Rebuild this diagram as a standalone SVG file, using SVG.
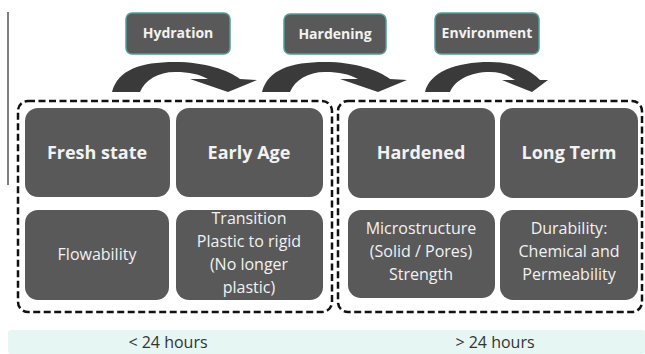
<svg xmlns="http://www.w3.org/2000/svg" width="645" height="354" viewBox="0 0 645 354">
<style>
.box{fill:#595959}
.lbl{fill:#595959;stroke:#4e9e9b;stroke-width:1.5}
.dash{fill:none;stroke:#111;stroke-width:2.5;stroke-dasharray:7 3.5}
.arr{fill:#3a3a3a}
.t{font-family:"Open Sans","Noto Sans",sans-serif;fill:#f2f2f2;text-anchor:middle}
.title{font-size:18px;font-weight:bold}
.body{font-size:16px}
.tag{font-size:14px;font-weight:bold}
.foot{font-family:"Open Sans","Noto Sans",sans-serif;font-size:16px;fill:#333;text-anchor:middle}
</style>
<rect width="645" height="354" fill="#fff"/>
<line x1="8" y1="12" x2="8" y2="185" stroke="#555" stroke-width="1.5"/>

<g id="hydration"><rect class="lbl" x="126" y="13" width="104" height="41" rx="6"/><text class="t tag" x="178" y="38">Hydration</text></g>
<g id="hardening"><rect class="lbl" x="284" y="14" width="102" height="40" rx="6"/><text class="t tag" x="335" y="39">Hardening</text></g>
<g id="environment"><rect class="lbl" x="435" y="13" width="104" height="41" rx="6"/><text class="t tag" x="487" y="38">Environment</text></g>

<g id="connectors">
<path class="arr" d="M112,92 C118,70 140,62 175,62 C205,62 228,70 240,79 L257,80 L228,92 L190,79 L208,79 C198,74 190,72 175,72 C158,72 145,80 140,92 Z"/>
<path class="arr" d="M262,92 C268,70 290,62 325,62 C355,62 378,70 390,79 L407,80 L378,92 L340,79 L358,79 C348,74 340,72 325,72 C308,72 295,80 290,92 Z"/>
<path class="arr" d="M425,92 C430,72 455,62 490,62 C515,62 530,70 540,80 L548,80 L532,92 L502,80 L515,80 C508,75 500,72 490,72 C470,72 455,80 450,92 Z"/>
</g>

<g id="group-early"><rect class="dash" x="18" y="101" width="314" height="211" rx="10"/></g>
<g id="group-late"><rect class="dash" x="338" y="101" width="304" height="211" rx="10"/></g>

<g id="fresh-state"><rect class="box" x="25" y="108" width="145" height="89" rx="13"/><text class="t title" x="97" y="159">Fresh state</text></g>
<g id="early-age"><rect class="box" x="176" y="108" width="147" height="89" rx="13"/><text class="t title" x="249" y="159">Early Age</text></g>
<g id="hardened"><rect class="box" x="348" y="108" width="147" height="90" rx="13"/><text class="t title" x="421" y="159">Hardened</text></g>
<g id="long-term"><rect class="box" x="500" y="108" width="138" height="90" rx="13"/><text class="t title" x="569" y="159">Long Term</text></g>

<g id="flowability"><rect class="box" x="25" y="210" width="144" height="90" rx="13"/><text class="t body" x="97" y="260">Flowability</text></g>
<g id="transition"><rect class="box" x="176" y="210" width="147" height="90" rx="13"/><text class="t body" x="249" y="224">Transition</text><text class="t body" x="249" y="247">Plastic to rigid</text><text class="t body" x="249" y="270">(No longer</text><text class="t body" x="249" y="293">plastic)</text></g>
<g id="microstructure"><rect class="box" x="348" y="210" width="147" height="88" rx="13"/><text class="t body" x="421" y="234">Microstructure</text><text class="t body" x="421" y="257">(Solid / Pores)</text><text class="t body" x="421" y="280">Strength</text></g>
<g id="durability"><rect class="box" x="500" y="210" width="138" height="90" rx="13"/><text class="t body" x="569" y="234">Durability:</text><text class="t body" x="569" y="257">Chemical and</text><text class="t body" x="569" y="280">Permeability</text></g>

<g id="timeline"><rect x="8" y="330" width="637" height="24" rx="3" fill="#e6f6f3"/><text class="foot" x="168" y="348">&lt; 24 hours</text><text class="foot" x="495" y="348">&gt; 24 hours</text></g>
</svg>
